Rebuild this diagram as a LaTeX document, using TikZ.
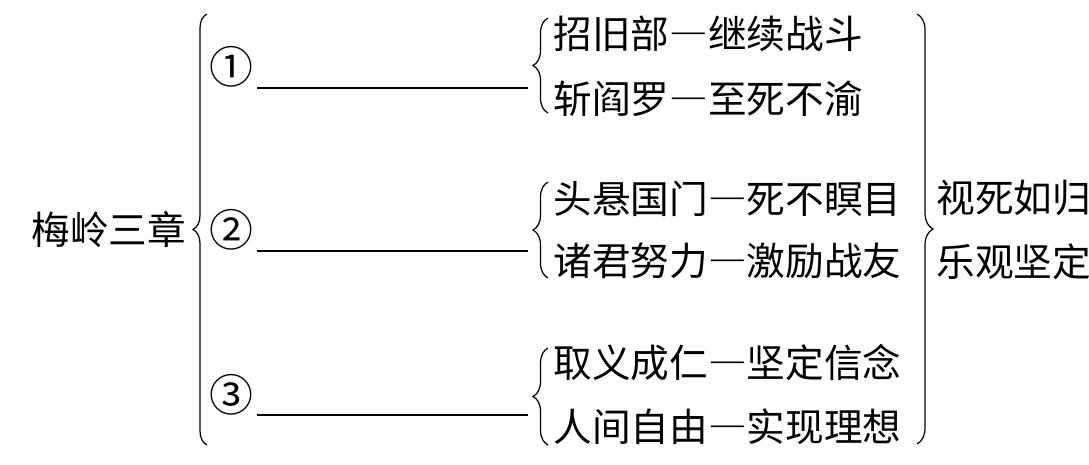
\documentclass[tikz,border=0pt]{standalone}
\usepackage{fontspec}
\newfontfamily\cjk[RawFeature=+fwid]{Noto Sans CJK SC}
\newfontfamily\cjknum{Noto Sans CJK SC}
\usetikzlibrary{decorations.pathreplacing}

\begin{document}
\begin{tikzpicture}[x=0.02cm, y=-0.02cm, line width=0.7pt,
  txt/.style={font=\cjk\fontsize{22}{24}\selectfont, inner sep=0pt},
  num/.style={font=\cjknum\fontsize{25}{28}\selectfont, inner xsep=2pt, inner ysep=0pt},
  brc/.style={decorate, decoration={brace, amplitude=#1}}]
  \useasboundingbox (0,0) rectangle (1089,464);
  \node[txt] (title) at (109,230) {梅岭三章};
  \node[num] (num1) at (231,67) {①};
  \node[num] (num2) at (231,230) {②};
  \node[num] (num3) at (231,395) {③};
  \node[txt, anchor=west] (r11) at (553,34) {招旧部—继续战斗};
  \node[txt, anchor=west] (r12) at (553,99) {斩阎罗—至死不渝};
  \node[txt, anchor=west] (r21) at (553,199) {头悬国门—死不瞑目};
  \node[txt, anchor=west] (r22) at (553,261) {诸君努力—激励战友};
  \node[txt, anchor=west] (r31) at (553,363) {取义成仁—坚定信念};
  \node[txt, anchor=west] (r32) at (553,427) {人间自由—实现理想};
  \node[txt, anchor=west] (res1) at (936,198) {视死如归};
  \node[txt, anchor=west] (res2) at (936,262) {乐观坚定};
  \coordinate (end1) at (528,88);
  \coordinate (end2) at (528,251);
  \coordinate (end3) at (528,415);
  \draw[brc=0.28cm] (207,445) -- (207,14);
  \draw[brc=0.3cm] (548,113) -- (548,18);
  \draw[brc=0.3cm] (548,278) -- (548,182);
  \draw[brc=0.3cm] (548,445) -- (548,348);
  \draw[brc=0.32cm] (917,14) -- (917,444);
  \draw (num1.east |- end1) -- (end1);
  \draw (num2.east |- end2) -- (end2);
  \draw (num3.east |- end3) -- (end3);
\end{tikzpicture}
\end{document}
